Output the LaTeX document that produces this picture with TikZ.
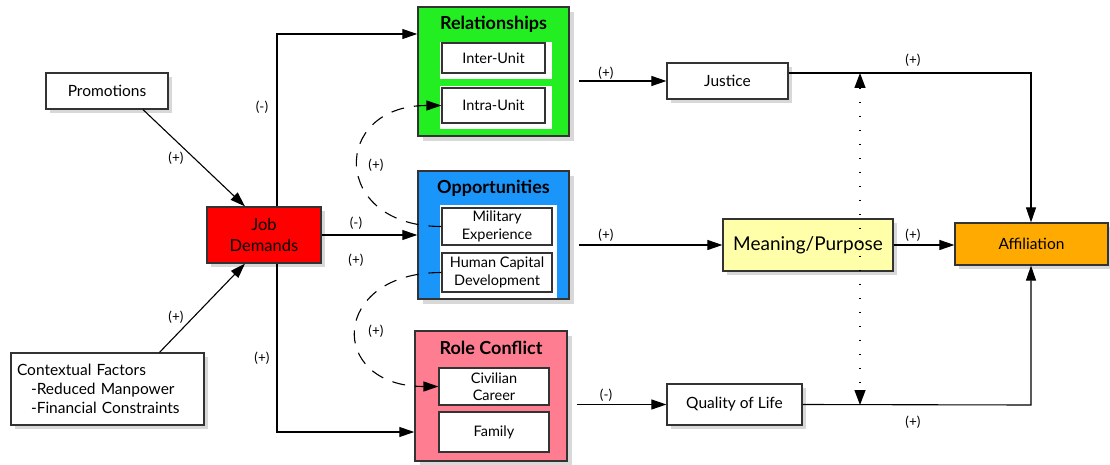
\documentclass[tikz,border=0pt]{standalone}
\usepackage{fontspec}
\setmainfont{Lato}
\usetikzlibrary{shapes,arrows.meta,positioning,calc,shadows}

\definecolor{relgreen}{RGB}{34,238,34}
\definecolor{oppblue}{RGB}{26,150,250}
\definecolor{rolepink}{RGB}{255,125,145}
\definecolor{meanyellow}{RGB}{255,255,170}
\definecolor{affgold}{RGB}{255,170,0}

\tikzset{
	box/.style={draw=black!80, line width=1.2pt, fill=white, inner sep=0pt, align=center,
		font=\fontsize{15.5}{19}\selectfont,
		drop shadow={shadow xshift=4pt, shadow yshift=-4pt, fill=black!30}},
	subbox/.style={draw=black!80, line width=1.1pt, fill=white, inner sep=0pt, align=center,
		font=\fontsize{14.5}{17.5}\selectfont},
	group/.style={draw=black!80, line width=1.5pt, inner sep=0pt,
		drop shadow={shadow xshift=5pt, shadow yshift=-5pt, fill=black!30}},
	panel/.style={fill=white, inner sep=0pt},
	grouptitle/.style={font=\fontsize{18}{21}\selectfont\bfseries},
	sign/.style={font=\fontsize{13.5}{15}\selectfont},
	link/.style={line width=1.1pt, -{Triangle[length=15pt,width=10pt]}},
	dashlink/.style={link, dash pattern=on 13pt off 10pt},
	dotlink/.style={line width=1.3pt, dash pattern=on 1.5pt off 12.5pt,
		{Triangle[length=15pt,width=11pt]}-{Triangle[length=15pt,width=11pt]}}
}

\begin{document}
\begin{tikzpicture}[x=1pt,y=-1pt]
	\useasboundingbox (0,0) rectangle (1110,465);

	\node[box, minimum width=122pt, minimum height=36pt] (promo) at (107,91) {Promotions};
	\node[box, fill=red, minimum width=114pt, minimum height=56pt, font=\fontsize{16.5}{21}\selectfont] (jd) at (264,235) {Job\\Demands};
	\node[box, minimum height=72pt, text width=181pt, inner xsep=6pt, align=left] (ctx) at (107.5,389)
		{Contextual Factors\\\hspace*{14pt}-Reduced Manpower\\\hspace*{14pt}-Financial Constraints};

	\node[group, fill=relgreen, minimum width=151pt, minimum height=129pt] (rel) at (493.5,71.5) {};
	\node[grouptitle] (reltitle) at (493.5,24) {Relationships};
	\node[panel, minimum width=112pt, minimum height=37pt] (relpanel1) at (496,60.5) {};
	\node[panel, minimum width=112pt, minimum height=43pt] (relpanel2) at (496,107.5) {};
	\node[subbox, minimum width=103pt, minimum height=30pt] (inter) at (493.5,58) {Inter-Unit};
	\node[subbox, minimum width=103pt, minimum height=35pt] (intra) at (493.5,105.5) {Intra-Unit};

	\node[group, fill=oppblue, minimum width=151pt, minimum height=128pt] (opp) at (493.5,235) {};
	\node[grouptitle] (opptitle) at (493.5,188) {Opportunities};
	\node[panel, minimum width=117pt, minimum height=93pt] (opppanel) at (498.5,251.5) {};
	\node[subbox, minimum width=110pt, minimum height=37pt] (mil) at (497,226.5) {Military\\Experience};
	\node[subbox, minimum width=110pt, minimum height=39pt] (hcd) at (497,272.5) {Human Capital\\Development};

	\node[group, fill=rolepink, minimum width=152pt, minimum height=130pt] (role) at (491,396) {};
	\node[grouptitle] (roletitle) at (491,348) {Role Conflict};
	\node[subbox, minimum width=110pt, minimum height=37pt] (civ) at (494,386.5) {Civilian\\Career};
	\node[subbox, minimum width=110pt, minimum height=40pt] (fam) at (494,432) {Family};

	\node[box, minimum width=121pt, minimum height=36pt] (jus) at (727.5,81) {Justice};
	\node[box, fill=meanyellow, minimum width=170pt, minimum height=52pt, font=\fontsize{19}{22}\selectfont] (mean) at (808,245) {Meaning/Purpose};
	\node[box, fill=affgold, minimum width=153pt, minimum height=42pt] (aff) at (1031.5,244) {Affiliation};
	\node[box, minimum width=135pt, minimum height=41pt] (qol) at (734.5,404.5) {Quality of Life};

	\coordinate (jtop) at (277,34);
	\coordinate (jbot) at (277,432);
	\coordinate (jcorner) at (1031,73);
	\coordinate (qcorner) at (1031,405);
	\coordinate (dtop) at (860,73);
	\coordinate (dbot) at (860,405);

	\draw[link] ([xshift=36pt]promo.south) -- ([xshift=-19pt]jd.north);
	\draw[link] ([xshift=52pt]ctx.north) -- ([xshift=-19pt]jd.south);
	\draw[link] (jd.north -| jtop) -- (jtop) -- (jtop -| rel.west);
	\draw[link] (jd.south -| jbot) -- (jbot) -- (jbot -| role.west);
	\draw[link] (jd) -- (opp);
	\draw[dashlink] (mil.west) to[out=180,in=180,looseness=2.35] (intra.west);
	\draw[dashlink] (hcd.west) to[out=180,in=180,looseness=2.5] (civ.west);
	\draw[link, shorten <=9pt] (rel.east |- jus) -- (jus);
	\draw[link, shorten <=9pt] (opp.east |- mean) -- (mean);
	\draw[link, shorten <=9pt] (role.east |- qol) -- (qol);
	\draw[link] (mean.east) -- (mean.east -| aff.west);
	\draw[link] (jcorner -| jus.east) -- (jcorner) -- (jcorner |- aff.north);
	\draw[link] (qol.east) -- (qcorner) -- (qcorner |- aff.south);
	\draw[dotlink] (dtop) -- (dbot);

	\node[sign] (s1) at (176,158) {(+)};
	\node[sign] (s2) at (176,317) {(+)};
	\node[sign] (s3) at (262,107) {(-)};
	\node[sign] (s4) at (262,358) {(+)};
	\node[sign] (s5) at (356,223) {(-)};
	\node[sign] (s6) at (356,260) {(+)};
	\node[sign] (s7) at (376,165) {(+)};
	\node[sign] (s8) at (376,331) {(+)};
	\node[sign] (s9) at (606,73) {(+)};
	\node[sign] (s10) at (606,235) {(+)};
	\node[sign] (s11) at (606,395) {(-)};
	\node[sign] (s12) at (913,60) {(+)};
	\node[sign] (s13) at (913,235) {(+)};
	\node[sign] (s14) at (913,422) {(+)};
\end{tikzpicture}
\end{document}
